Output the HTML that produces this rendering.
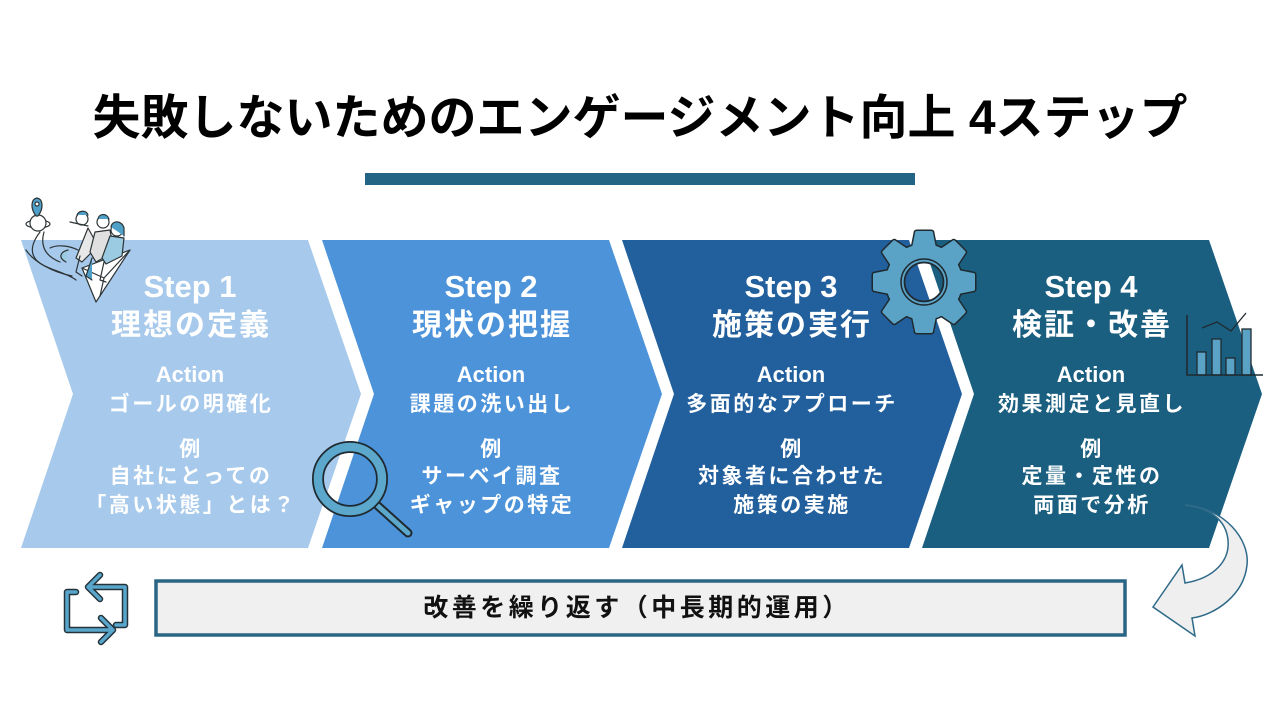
<!DOCTYPE html>
<html><head><meta charset="utf-8"><style>
html,body{margin:0;padding:0;background:#fff;}
svg{display:block;}
.jp{font-family:"Liberation Sans","Noto Sans CJK JP",sans-serif;font-weight:bold;}
</style></head><body>
<svg width="1280" height="720" viewBox="0 0 1280 720" xmlns="http://www.w3.org/2000/svg">
<rect width="1280" height="720" fill="#fff"/>
<!-- Title -->
<text x="640" y="134" text-anchor="middle" class="jp" font-size="48" fill="#000">失敗しないためのエンゲージメント向上 4ステップ</text>
<rect x="365" y="173" width="550" height="12" fill="#236384"/>

<!-- Chevrons -->
<polygon points="21,240 308,240 361,394 308,548 21,548 73,394" fill="#A7C9EB"/>
<polygon points="322,240 609,240 662,394 609,548 322,548 374,394" fill="#4C93DA"/>
<polygon points="622,240 909,240 962,394 909,548 622,548 674,394" fill="#225F9D"/>
<polygon points="922,240 1209,240 1262,394 1209,548 922,548 974,394" fill="#1A5F80"/>

<!-- Chevron texts -->
<g class="jp" fill="#fff" text-anchor="middle">
  <g transform="translate(190,0)">
    <text x="0" y="297" font-family="Liberation Sans" font-size="31">Step 1</text>
    <text x="1" y="335" font-size="30" letter-spacing="2">理想の定義</text>
    <text x="0" y="382" font-family="Liberation Sans" font-size="22">Action</text>
    <text x="1" y="411" font-size="21" letter-spacing="2.5">ゴールの明確化</text>
    <text x="1" y="456" font-size="21" letter-spacing="2.5">例</text>
    <text x="1" y="483" font-size="21" letter-spacing="2.5">自社にとっての</text>
    <text x="1" y="512" font-size="21" letter-spacing="2.5">「高い状態」とは？</text>
  </g>
  <g transform="translate(491,0)">
    <text x="0" y="297" font-family="Liberation Sans" font-size="31">Step 2</text>
    <text x="1" y="335" font-size="30" letter-spacing="2">現状の把握</text>
    <text x="0" y="382" font-family="Liberation Sans" font-size="22">Action</text>
    <text x="1" y="411" font-size="21" letter-spacing="2.5">課題の洗い出し</text>
    <text x="1" y="456" font-size="21" letter-spacing="2.5">例</text>
    <text x="1" y="483" font-size="21" letter-spacing="2.5">サーベイ調査</text>
    <text x="1" y="512" font-size="21" letter-spacing="2.5">ギャップの特定</text>
  </g>
  <g transform="translate(791,0)">
    <text x="0" y="297" font-family="Liberation Sans" font-size="31">Step 3</text>
    <text x="1" y="335" font-size="30" letter-spacing="2">施策の実行</text>
    <text x="0" y="382" font-family="Liberation Sans" font-size="22">Action</text>
    <text x="1" y="411" font-size="21" letter-spacing="2.5">多面的なアプローチ</text>
    <text x="1" y="456" font-size="21" letter-spacing="2.5">例</text>
    <text x="1" y="483" font-size="21" letter-spacing="2.5">対象者に合わせた</text>
    <text x="1" y="512" font-size="21" letter-spacing="2.5">施策の実施</text>
  </g>
  <g transform="translate(1091,0)">
    <text x="0" y="297" font-family="Liberation Sans" font-size="31">Step 4</text>
    <text x="1" y="335" font-size="30" letter-spacing="2">検証・改善</text>
    <text x="0" y="382" font-family="Liberation Sans" font-size="22">Action</text>
    <text x="1" y="411" font-size="21" letter-spacing="2.5">効果測定と見直し</text>
    <text x="1" y="456" font-size="21" letter-spacing="2.5">例</text>
    <text x="1" y="483" font-size="21" letter-spacing="2.5">定量・定性の</text>
    <text x="1" y="512" font-size="21" letter-spacing="2.5">両面で分析</text>
  </g>
</g>

<!-- Illustration top-left (people on paper plane) -->
<g stroke="#2d3436" stroke-width="1.2" fill="none" stroke-linecap="round" stroke-linejoin="round">
  <path d="M40,232 C30,245 28,258 45,266 C55,271 68,274 76,280"/>
  <path d="M44,232 C40,246 45,256 60,262"/>
  <path d="M26,250 C34,262 52,272 72,276"/>
  <path d="M50,248 C58,244 70,246 78,250"/>
  <ellipse cx="38" cy="224" rx="12" ry="4" />
  <circle cx="38" cy="223" r="8" fill="#fff"/>
  <path d="M36,216 C30,208 31,199 37,198 C43,199 44,208 38,216 Z" fill="#4FA0C8"/>
  <circle cx="37" cy="204" r="2" fill="#fff"/>
  <path d="M82,268 L130,250 L96,302 Z" fill="#fff"/>
  <path d="M82,268 L104,278 L130,250 M104,278 L100,296"/>
  <path d="M68,250 C60,252 58,258 66,262" fill="#9ACBE2"/>
  <path d="M88,228 L98,246 L82,262 L76,258 Z" fill="#e8e8e8"/>
  <path d="M80,256 L76,272 L82,276" fill="none"/>
  <circle cx="82" cy="219" r="6" fill="#fff"/>
  <path d="M77,215 C79,210 87,210 88,215" fill="#4FA0C8"/>
  <path d="M88,226 L70,222"/>
  <path d="M95,232 L110,230 L114,252 L96,262 L90,252 Z" fill="#e0e0e0"/>
  <path d="M92,258 L86,276 L92,280" fill="#4FA0C8"/>
  <circle cx="103" cy="222" r="6" fill="#fff"/>
  <path d="M98,219 C99,213 107,213 109,219" fill="#4FA0C8"/>
  <path d="M110,236 L124,238 L122,256 L106,264 L102,258 Z" fill="#9ACBE2"/>
  <path d="M104,262 L100,280 L106,282"/>
  <circle cx="117" cy="230" r="6" fill="#fff"/>
  <path d="M111,227 C112,220 122,220 124,228 L124,236" fill="#4FA0C8"/>
</g>

<!-- Magnifier -->
<g stroke-linecap="round">
  <line x1="378" y1="506" x2="408" y2="533" stroke="#1f2a30" stroke-width="9"/>
  <line x1="378" y1="506" x2="408" y2="533" stroke="#5BA8CC" stroke-width="5"/>
  <circle cx="350" cy="479" r="32" fill="none" stroke="#1f2a30" stroke-width="12"/>
  <circle cx="350" cy="479" r="32" fill="none" stroke="#5BA8CC" stroke-width="8.5"/>
</g>

<!-- Gear -->
<defs>
  <mask id="gm">
    <rect x="860" y="220" width="130" height="130" fill="#fff"/>
    <circle cx="924" cy="282" r="19" fill="#000"/>
  </mask>
  <g id="gearshape">
    <circle cx="924" cy="282" r="38"/>
    <g transform="translate(924,282)">
      <path id="tooth" d="M-12,-34 L-9,-49 Q-9,-51 -7,-51 L7,-51 Q9,-51 9,-49 L12,-34 Z"/>
      <use href="#tooth" transform="rotate(45)"/>
      <use href="#tooth" transform="rotate(90)"/>
      <use href="#tooth" transform="rotate(135)"/>
      <use href="#tooth" transform="rotate(180)"/>
      <use href="#tooth" transform="rotate(225)"/>
      <use href="#tooth" transform="rotate(270)"/>
      <use href="#tooth" transform="rotate(315)"/>
    </g>
  </g>
</defs>
<g mask="url(#gm)">
  <use href="#gearshape" fill="#1f2a30" stroke="#1f2a30" stroke-width="3" stroke-linejoin="round"/>
  <use href="#gearshape" fill="#5BA3C6"/>
</g>
<circle cx="924" cy="282" r="19.5" fill="none" stroke="#1f2a30" stroke-width="1.8"/>
<circle cx="924" cy="282" r="23" fill="none" stroke="#1f2a30" stroke-width="1.5"/>

<!-- Chart -->
<g stroke="#1f2a30" stroke-width="1.3">
  <rect x="1197" y="352" width="9" height="23" fill="#5BA3C6"/>
  <rect x="1212" y="339" width="9" height="36" fill="#5BA3C6"/>
  <rect x="1226" y="358" width="9" height="17" fill="#5BA3C6"/>
  <rect x="1242" y="329" width="9" height="46" fill="#5BA3C6"/>
  <polyline points="1202,328 1217,322 1231,331 1246,313" fill="none"/>
  <polyline points="1187,315 1187,375 1263,375" fill="none" stroke-width="1.6"/>
</g>

<!-- Bottom box -->
<rect x="156" y="581" width="969" height="54" fill="#F0F0F0" stroke="#2A6585" stroke-width="3.5"/>
<text x="637" y="616" text-anchor="middle" class="jp" font-size="25" letter-spacing="3.5" fill="#111">改善を繰り返す（中長期的運用）</text>

<!-- Recycle icon -->
<g fill="none" stroke-linecap="round" stroke-linejoin="round">
  <g stroke="#24323a" stroke-width="6.5">
    <path d="M116,625 L125,625 L125,587 L88,587 M100,575 L88,587 L100,599"/>
    <path d="M76,592 L67,592 L67,630 L113,630 M101,618 L113,630 L101,642"/>
  </g>
  <g stroke="#58A6CB" stroke-width="3.5">
    <path d="M116,625 L125,625 L125,587 L88,587 M100,575 L88,587 L100,599"/>
    <path d="M76,592 L67,592 L67,630 L113,630 M101,618 L113,630 L101,642"/>
  </g>
</g>

<!-- Curved arrow -->
<path d="M1185,505 C1225,508 1250,540 1247,565 C1244,595 1215,615 1192,618 L1195,636 L1153,607 L1182,565 L1185,583 C1215,578 1230,560 1228,540 C1226,520 1210,508 1185,505 Z" fill="#EFEFEF" stroke="#2F6A89" stroke-width="1.5" stroke-linejoin="miter"/>
</svg>
</body></html>
